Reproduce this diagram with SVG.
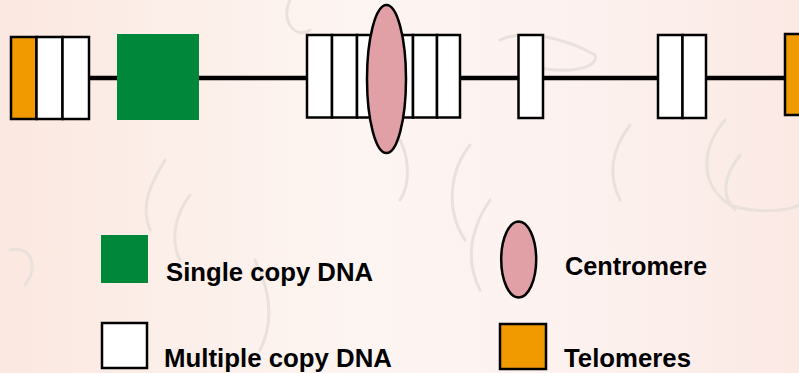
<svg xmlns="http://www.w3.org/2000/svg" width="799" height="373" viewBox="0 0 799 373">
<defs>
<linearGradient id="bg" x1="0" y1="0" x2="1" y2="0">
<stop offset="0" stop-color="#FBE8E0"/>
<stop offset="0.45" stop-color="#FDF5F2"/>
<stop offset="0.75" stop-color="#FCF1EE"/>
<stop offset="1" stop-color="#FBE9E4"/>
</linearGradient>
<style>
.cell{fill:#FFFFFF;stroke:#000;stroke-width:2.5}
.telo{fill:#F09A00;stroke:#000;stroke-width:2.5}
.single{fill:#00873A}
.centro{fill:#E0A0A6;stroke:#000;stroke-width:2.5}
.chr{stroke:#000;stroke-width:4.5;fill:none}
.deco{fill:none;stroke:#EAE1DD;stroke-width:3;stroke-linecap:round}
.lbl{font-family:"Liberation Sans",Arial,sans-serif;font-weight:bold;font-size:25px;fill:#000}
</style>
</defs>
<rect width="799" height="373" fill="url(#bg)"/>
<g id="background-pattern">
<path class="deco" d="M165 160 C150 185 140 205 150 230"/>
<path class="deco" d="M190 195 C175 215 170 240 180 260"/>
<path class="deco" d="M470 145 C450 170 445 210 465 240"/>
<path class="deco" d="M490 200 C470 230 465 260 480 290"/>
<path class="deco" d="M630 125 C615 145 605 170 620 200"/>
<path class="deco" d="M725 120 C700 150 700 185 730 205 C760 215 790 210 799 205"/>
<path class="deco" d="M740 155 C725 175 720 195 735 210"/>
<path class="deco" d="M400 140 C410 160 410 185 400 200"/>
<path class="deco" d="M290 0 C280 20 295 40 310 30"/>
<path class="deco" d="M500 40 C520 30 560 35 595 55 C600 70 560 75 530 65"/>
<path class="deco" d="M255 260 C270 290 275 320 260 350"/>
<path class="deco" d="M10 250 C30 245 40 265 25 285"/>
</g>
<g id="connectors">
<line class="chr" x1="89" y1="78" x2="117" y2="78"/>
<line class="chr" x1="199" y1="78" x2="307" y2="78"/>
<line class="chr" x1="460" y1="78" x2="518" y2="78"/>
<line class="chr" x1="543" y1="78" x2="658" y2="78"/>
<line class="chr" x1="706" y1="78" x2="785" y2="78"/>
</g>
<g id="left-telomere-block">
<rect class="telo" x="11" y="37" width="25.5" height="82"/>
<rect class="cell" x="36.5" y="37" width="26" height="82"/>
<rect class="cell" x="62.5" y="37" width="26.5" height="82"/>
</g>
<g id="single-copy-block">
<rect class="single" x="117" y="34" width="82" height="86"/>
</g>
<g id="centromere-block">
<rect class="cell" x="307" y="35" width="25" height="82.5"/>
<rect class="cell" x="332" y="35" width="25" height="82.5"/>
<rect class="cell" x="357" y="35" width="25" height="82.5"/>
<rect class="cell" x="388" y="35" width="25" height="82.5"/>
<rect class="cell" x="413" y="35" width="24" height="82.5"/>
<rect class="cell" x="437" y="35" width="23" height="82.5"/>
<ellipse class="centro" cx="386.5" cy="79" rx="19.5" ry="74"/>
</g>
<g id="single-repeat-block">
<rect class="cell" x="518.5" y="35" width="24.5" height="83"/>
</g>
<g id="double-repeat-block">
<rect class="cell" x="658" y="35" width="24.5" height="83"/>
<rect class="cell" x="682.5" y="35" width="23.5" height="83"/>
</g>
<g id="right-telomere">
<rect class="telo" x="785" y="34" width="20" height="81"/>
</g>
<g id="legend-single">
<rect class="single" x="101" y="235" width="47" height="48"/>
<text class="lbl" x="166" y="281" textLength="207" lengthAdjust="spacingAndGlyphs">Single copy DNA</text>
</g>
<g id="legend-multiple">
<rect class="cell" x="102" y="323" width="45" height="45"/>
<text class="lbl" x="164" y="367" textLength="228" lengthAdjust="spacingAndGlyphs">Multiple copy DNA</text>
</g>
<g id="legend-centromere">
<ellipse class="centro" cx="518.7" cy="259.5" rx="17.5" ry="38"/>
<text class="lbl" x="565" y="275" textLength="142" lengthAdjust="spacingAndGlyphs">Centromere</text>
</g>
<g id="legend-telomeres">
<rect class="telo" x="500" y="324" width="46" height="45"/>
<text class="lbl" x="564" y="367" textLength="127" lengthAdjust="spacingAndGlyphs">Telomeres</text>
</g>
</svg>
